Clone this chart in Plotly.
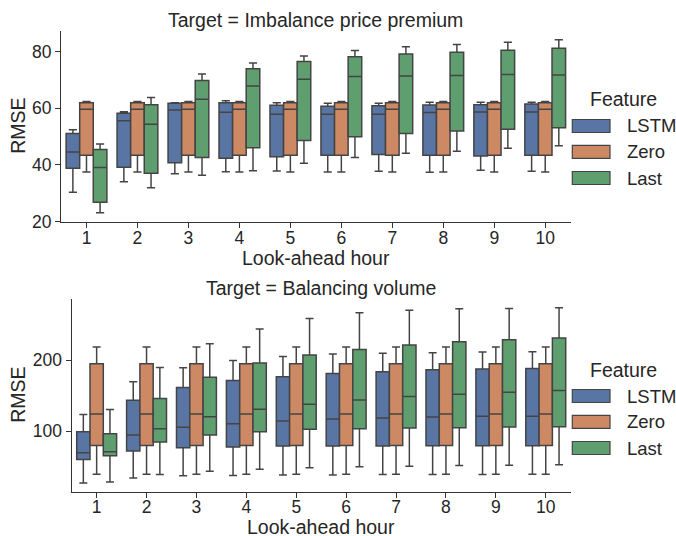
import plotly.graph_objects as go

W, H = 676, 536

hours = [str(h) for h in range(1, 11)]
features = ["LSTM", "Zero", "Last"]
fill_colors = ["#5875a4", "#cc8963", "#5f9e6e"]
line_color = "#444444"

# ---- Target = Imbalance price premium ----
p_lstm_lo = [30.4, 34.1, 36.9, 37.6, 37.9, 37.5, 37.8, 37.4, 38.1, 37.8]
p_lstm_q1 = [38.8, 39.2, 40.8, 42.4, 42.9, 43.4, 43.7, 43.4, 43.2, 43.4]
p_lstm_med = [44.6, 55.6, 59.4, 58.6, 57.9, 57.9, 57.9, 58.5, 58.7, 58.7]
p_lstm_q3 = [51.1, 58.3, 61.8, 62.0, 61.1, 60.7, 60.9, 61.2, 61.3, 61.5]
p_lstm_hi = [52.4, 58.8, 62.0, 62.7, 62.0, 61.8, 61.8, 62.1, 62.1, 62.1]

p_zero_lo = [37.5] * 10
p_zero_q1 = [43.4] * 10
p_zero_med = [59.7] * 10
p_zero_q3 = [62.0] * 10
p_zero_hi = [62.4] * 10

p_last_lo = [23.1, 32.0, 36.4, 38.0, 40.6, 42.6, 44.1, 44.8, 45.9, 46.8]
p_last_q1 = [26.8, 37.1, 42.6, 46.1, 48.6, 50.0, 51.1, 52.0, 52.6, 53.1]
p_last_med = [39.1, 54.4, 63.2, 67.9, 70.3, 71.2, 71.4, 71.6, 71.9, 71.8]
p_last_q3 = [45.5, 61.3, 69.8, 74.0, 76.5, 78.2, 79.2, 79.8, 80.5, 81.2]
p_last_hi = [47.4, 63.8, 72.1, 76.0, 78.5, 80.4, 81.7, 82.5, 83.3, 84.2]

# ---- Target = Balancing volume ----
v_lstm_lo = [26.9, 33.9, 36.8, 37.3, 38.2, 38.2, 38.7, 38.7, 38.7, 39.2]
v_lstm_q1 = [60.0, 71.7, 76.4, 77.4, 78.8, 78.8, 78.8, 79.3, 79.3, 79.3]
v_lstm_med = [69.3, 94.3, 105.2, 110.3, 114.1, 117.0, 118.4, 119.8, 120.8, 120.8]
v_lstm_q3 = [99.0, 143.4, 161.2, 171.1, 176.4, 181.1, 183.5, 186.3, 187.3, 188.1]
v_lstm_hi = [123.1, 169.3, 189.1, 199.4, 205.1, 208.5, 209.4, 210.3, 211.3, 211.7]

v_zero_lo = [39.2] * 10
v_zero_q1 = [79.7] * 10
v_zero_med = [124.0] * 10
v_zero_q3 = [194.8] * 10
v_zero_hi = [218.4] * 10

v_last_lo = [28.3, 38.8, 43.4, 46.3, 48.1, 49.5, 50.5, 51.5, 51.9, 52.3]
v_last_q1 = [65.1, 84.4, 94.3, 99.0, 102.4, 103.3, 104.2, 104.7, 105.7, 106.1]
v_last_med = [70.7, 103.3, 120.2, 130.7, 137.8, 143.8, 148.5, 151.9, 154.7, 157.0]
v_last_q3 = [96.2, 145.7, 175.9, 195.8, 207.1, 215.0, 221.2, 225.9, 228.7, 231.1]
v_last_hi = [130.2, 189.6, 223.1, 243.8, 258.4, 266.5, 270.2, 272.1, 272.6, 273.5]

top_titles = ["Target = Imbalance price premium", "Target = Balancing volume"]
x_label = "Look-ahead hour"
y_label = "RMSE"
legend_title = "Feature"

panels = [
    [(p_lstm_lo, p_lstm_q1, p_lstm_med, p_lstm_q3, p_lstm_hi),
     (p_zero_lo, p_zero_q1, p_zero_med, p_zero_q3, p_zero_hi),
     (p_last_lo, p_last_q1, p_last_med, p_last_q3, p_last_hi)],
    [(v_lstm_lo, v_lstm_q1, v_lstm_med, v_lstm_q3, v_lstm_hi),
     (v_zero_lo, v_zero_q1, v_zero_med, v_zero_q3, v_zero_hi),
     (v_last_lo, v_last_q1, v_last_med, v_last_q3, v_last_hi)],
]

FONT = "Arial, 'Liberation Sans', sans-serif"
TXT = "#262626"
LBL = 19.5
LEG = 18.5

def px(x):
    return x / W

def py(y):
    return 1 - y / H

fig = go.Figure()
for pi, panel in enumerate(panels):
    xa = "x" if pi == 0 else "x2"
    ya = "y" if pi == 0 else "y2"
    for fi, (lo, q1, med, q3, hi) in enumerate(panel):
        fig.add_trace(go.Box(
            x=hours, lowerfence=lo, q1=q1, median=med, q3=q3, upperfence=hi,
            name=features[fi], offsetgroup=features[fi],
            fillcolor=fill_colors[fi],
            line=dict(color=line_color, width=1.5),
            whiskerwidth=0.6, boxpoints=False, showlegend=False,
            hoverinfo="skip", xaxis=xa, yaxis=ya,
        ))

axis_common = dict(
    showline=True, linecolor="#333333", linewidth=1.25,
    ticks="outside", ticklen=5, tickwidth=1.25, tickcolor="#333333",
    showgrid=False, zeroline=False, automargin=False,
    tickfont=dict(family=FONT, size=17.5, color=TXT),
)

# pixel geometry of the two panels
P = [dict(x0=61.0, x1=570.7, y0=31.0, y1=221.7, yr=[19.97, 87.3], tv=[20, 40, 60, 80], xl=36.5),
     dict(x0=71.7, x1=570.7, y0=299.0, y1=491.7, yr=[14.5, 286.0], tv=[100, 200], xl=35.5)]

fig.update_layout(
    width=W, height=H, margin=dict(l=0, r=0, t=0, b=0, autoexpand=False),
    paper_bgcolor="white", plot_bgcolor="white",
    boxmode="group", boxgap=0.2, boxgroupgap=0.0,
    showlegend=False,
    xaxis=dict(domain=[px(P[0]["x0"]), px(P[0]["x1"])], anchor="y",
               type="category", range=[-0.5, 9.5], ticklabelstandoff=-5, **axis_common),
    yaxis=dict(domain=[py(P[0]["y1"]), py(P[0]["y0"])], anchor="x",
               range=P[0]["yr"], tickvals=P[0]["tv"], **axis_common),
    xaxis2=dict(domain=[px(P[1]["x0"]), px(P[1]["x1"])], anchor="y2",
                type="category", range=[-0.5, 9.5], ticklabelstandoff=-6, **axis_common),
    yaxis2=dict(domain=[py(P[1]["y1"]), py(P[1]["y0"])], anchor="x2",
                range=P[1]["yr"], tickvals=P[1]["tv"], **axis_common),
)

annotations = []
shapes = []
for pi, p in enumerate(P):
    cx = (p["x0"] + p["x1"]) / 2
    cy = (p["y0"] + p["y1"]) / 2
    # panel title
    annotations.append(dict(text=top_titles[pi], x=px(cx), y=py(p["y0"] - 11),
                            xref="paper", yref="paper", xanchor="center", yanchor="middle",
                            showarrow=False, font=dict(family=FONT, size=LBL, color=TXT)))
    # x label
    annotations.append(dict(text=x_label, x=px(cx), y=py(p["y1"] + p["xl"]),
                            xref="paper", yref="paper", xanchor="center", yanchor="middle",
                            showarrow=False, font=dict(family=FONT, size=LBL, color=TXT)))
    # y label
    annotations.append(dict(text=y_label, x=px(18.5), y=py(cy), textangle=-90,
                            xref="paper", yref="paper", xanchor="center", yanchor="middle",
                            showarrow=False, font=dict(family=FONT, size=LBL, color=TXT)))
    # legend
    off = 0 if pi == 0 else 270
    annotations.append(dict(text=legend_title, x=px(623), y=py(99.5 + off),
                            xref="paper", yref="paper", xanchor="center", yanchor="middle",
                            showarrow=False, font=dict(family=FONT, size=LBL, color=TXT)))
    for fi, name in enumerate(features):
        yc = [126.0, 151.8, 178.0][fi] + off
        shapes.append(dict(type="rect", xref="paper", yref="paper",
                           x0=px(572.3), x1=px(610.0), y0=py(yc - 6.5), y1=py(yc + 6.5),
                           fillcolor=fill_colors[fi], line=dict(color=line_color, width=1.2)))
        annotations.append(dict(text=name, x=px(624.5), y=py(yc),
                                xref="paper", yref="paper", xanchor="left", yanchor="middle",
                                showarrow=False, font=dict(family=FONT, size=LEG, color=TXT)))

fig.update_layout(annotations=annotations, shapes=shapes)

page_css = (
    "document.documentElement.style.margin='0';"
    "document.documentElement.style.overflow='hidden';"
    "document.body.style.margin='0';document.body.style.padding='0';"
    "document.body.style.overflow='hidden';"
)

fig.write_html("out.html", config={"displayModeBar": False}, post_script=page_css)
